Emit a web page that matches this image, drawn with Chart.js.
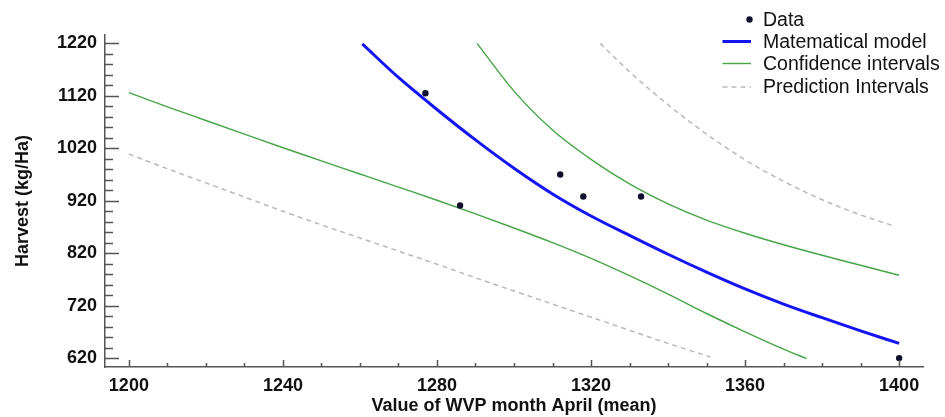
<!DOCTYPE html>
<html>
<head>
  <meta charset="utf-8">
  <title>Harvest vs WVP April</title>
  <script src="https://cdn.jsdelivr.net/npm/chart.js"></script>
  <style>
    html, body { margin: 0; padding: 0; background: #fff; }
    #wrap { width: 945px; height: 417px; }
  </style>
</head>
<body>
  <div id="wrap"><canvas id="chart" width="945" height="417"></canvas></div>

  <script>
    // observed data
    const dataX = [1277, 1286, 1312, 1318, 1333, 1400];
    const dataY = [1125, 911, 970, 928, 928, 620];

    // fitted model
    const modelX = [1260.6, 1270, 1280, 1290, 1300, 1310, 1320, 1330, 1340, 1350, 1360, 1370, 1380, 1390, 1400];
    const modelY = [1219, 1155, 1094, 1036, 982, 933, 891, 854, 818, 784, 752, 723, 697, 672, 648];

    // confidence intervals
    const confUpX = [1290.4, 1300, 1310, 1320, 1330, 1340, 1350, 1360, 1370, 1380, 1390, 1400];
    const confUpY = [1220, 1129, 1055, 999, 952, 914, 883, 858, 836, 816, 797, 778];
    const confLoX = [1200, 1210, 1220, 1230, 1240, 1250, 1260, 1270, 1280, 1290, 1300, 1310, 1320, 1330, 1340, 1350, 1360, 1370, 1376];
    const confLoY = [1126, 1099, 1073, 1047, 1021, 996, 971, 946, 921, 895, 868, 840, 810, 777, 742, 705, 670, 637, 619];

    // prediction intervals
    const predUpX = [1322.4, 1330, 1340, 1350, 1360, 1370, 1380, 1390, 1399];
    const predUpY = [1220, 1166, 1103, 1047, 998, 957, 922, 893, 871];
    const predLoX = [1200, 1210, 1220, 1230, 1240, 1250, 1260, 1270, 1280, 1290, 1300, 1310, 1320, 1330, 1340, 1351];
    const predLoY = [1009, 981, 954, 927, 900, 874, 849, 824, 799, 773, 748, 723, 698, 673, 648, 622];

    const xTicks = [1200, 1240, 1280, 1320, 1360, 1400];
    const yTicks = [620, 720, 820, 920, 1020, 1120, 1220];
    const xMinorStep = 10, yMinorStep = 20;

    const legendItems = ['Data', 'Matematical model', 'Confidence intervals', 'Prediction Intervals'];

    const BLUE = '#1414f5', GREEN = '#46a546', GRAY = '#b9b9b9', DOT = '#10102e', AXIS = '#555';

    const pts = (xs, ys) => xs.map((x, i) => ({x, y: ys[i]}));

    const lineSet = (xs, ys, color, width, dash) => ({
      data: pts(xs, ys), showLine: true, borderColor: color, borderWidth: width,
      borderDash: dash || [], pointRadius: 0, cubicInterpolationMode: 'monotone', fill: false
    });

    // minor/major ticks point inwards, legend drawn in the top right corner
    const extras = {
      id: 'extras',
      afterDraw(chart) {
        const {ctx, chartArea: a, scales: {x, y}} = chart;
        ctx.save();
        ctx.strokeStyle = AXIS;
        ctx.lineWidth = 1.5;
        ctx.beginPath();
        for (let v = xTicks[0]; v <= xTicks[xTicks.length - 1]; v += xMinorStep) {
          const px = Math.round(x.getPixelForValue(v)) + 0.5;
          const len = xTicks.includes(v) ? 7 : 4;
          ctx.moveTo(px, a.bottom); ctx.lineTo(px, a.bottom - len);
        }
        for (let v = yTicks[0]; v <= yTicks[yTicks.length - 1]; v += yMinorStep) {
          const py = Math.round(y.getPixelForValue(v)) + 0.5;
          const len = yTicks.includes(v) ? 14 : 8;
          ctx.moveTo(a.left, py); ctx.lineTo(a.left + len, py);
        }
        ctx.stroke();

        // legend
        const rows = [19.5, 41.5, 63.5, 87];
        const sets = chart.data.datasets;
        ctx.font = '19.5px "Liberation Sans", Arial, sans-serif';
        ctx.textBaseline = 'middle';
        legendItems.forEach((label, i) => {
          const yy = rows[i];
          if (i === 0) {
            ctx.beginPath();
            ctx.fillStyle = DOT;
            ctx.arc(749.5, yy, 3.2, 0, Math.PI * 2);
            ctx.fill();
          } else {
            const ds = sets[i === 3 ? 4 : i];
            ctx.beginPath();
            ctx.strokeStyle = ds.borderColor;
            ctx.lineWidth = ds.borderWidth;
            ctx.setLineDash(ds.borderDash);
            ctx.moveTo(722.5, yy); ctx.lineTo(751, yy);
            ctx.stroke();
            ctx.setLineDash([]);
          }
          ctx.fillStyle = '#111';
          ctx.fillText(label, 763, yy + 1);
        });
        ctx.restore();
      }
    };

    const tickFont = {family: '"Liberation Sans", Arial, sans-serif', size: 18, weight: 'bold'};

    new Chart(document.getElementById('chart'), {
      type: 'scatter',
      data: {
        datasets: [
          {data: pts(dataX, dataY), pointRadius: 3.2, backgroundColor: DOT, borderWidth: 0, showLine: false},
          lineSet(modelX, modelY, BLUE, 3),
          lineSet(confUpX, confUpY, GREEN, 1.4),
          lineSet(confLoX, confLoY, GREEN, 1.4),
          lineSet(predUpX, predUpY, GRAY, 1.5, [5, 4]),
          lineSet(predLoX, predLoY, GRAY, 1.5, [5, 4])
        ]
      },
      options: {
        responsive: false,
        animation: false,
        events: [],
        layout: {padding: {top: 35, right: 22, left: 0, bottom: 0}},
        plugins: {legend: {display: false}, tooltip: {enabled: false}},
        scales: {
          x: {
            type: 'linear', min: 1193.8, max: 1406.2,
            afterBuildTicks: s => { s.ticks = xTicks.map(v => ({value: v})); },
            afterFit: s => { s.height = 50; },
            grid: {display: false},
            border: {display: true, color: AXIS, width: 1.5},
            ticks: {color: '#111', font: tickFont, padding: 0, maxRotation: 0, autoSkip: false, callback: v => String(v)},
            title: {display: true, text: 'Value of WVP month April (mean)', color: '#111', font: tickFont, padding: {top: 0, bottom: 0}}
          },
          y: {
            type: 'linear', min: 603, max: 1236,
            afterBuildTicks: s => { s.ticks = yTicks.map(v => ({value: v})); },
            afterFit: s => { s.width = 105; },
            grid: {display: false},
            border: {display: true, color: AXIS, width: 1.5},
            ticks: {color: '#111', font: tickFont, padding: 0, autoSkip: false, callback: v => String(v)},
            title: {display: true, text: 'Harvest (kg/Ha)', color: '#111', font: tickFont, padding: {top: 12, bottom: 0}}
          }
        }
      },
      plugins: [extras]
    });
  </script>
</body>
</html>
